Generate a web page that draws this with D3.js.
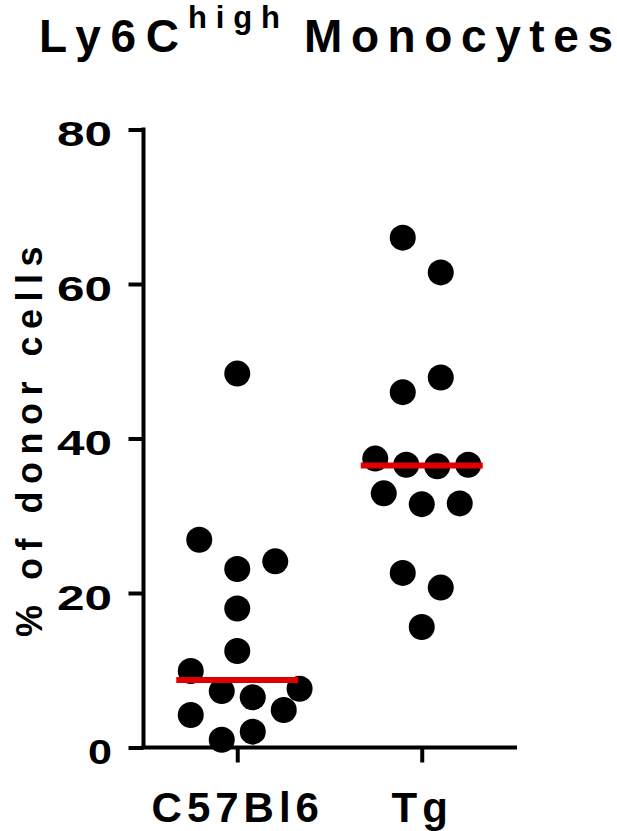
<!DOCTYPE html>
<html>
<head>
<meta charset="utf-8">
<script src="https://cdn.jsdelivr.net/npm/d3@7"></script>
<style>
  body { margin: 0; background: #fff; }
  text { font-family: "Liberation Sans", Arial, sans-serif; font-weight: bold; fill: #000; }
</style>
</head>
<body>
<svg id="chart" width="617" height="831"></svg>
<script>
// values, listed row by row, left to right
var groups = ["C57Bl6", "Tg"];
var c57Values = [48.4, 26.9, 23.1, 24.1, 18.0, 12.5, 9.9, 7.3, 6.5, 7.6, 4.2, 1.0, 2.05, 4.85];
var tgValues = [66.0, 61.5, 46.0, 47.9, 37.4, 36.6, 36.4, 36.6, 32.9, 31.5, 31.6, 22.6, 20.7, 15.6];
var yTicks = [0, 20, 40, 60, 80];

var series = [
  { name: groups[0], values: c57Values },
  { name: groups[1], values: tgValues }
];

var svg = d3.select("#chart"),
    axisX = 143.5,
    axisY = 747.5,
    dotR = 13,
    halfMedian = 61;

var y = d3.scaleLinear().domain([0, 80]).range([axisY, 129.5]);
var x = d3.scalePoint().domain(groups).range([145, 514]).padding(0.5);

// Prism-like scatter: bin values into rows, spread each row, then
// nudge dots outward when they hit a dot of a lower row
var binStart = 0.8, binSize = 5.5, maxStep = 38, rowWidth = 93, minDist = 26.5;

function swarm(values) {
  var pts = values.map(function (v, i) { return { v: v, i: i, y: y(v), dx: 0 }; });
  var bins = d3.groups(pts, function (d) { return Math.floor((d.v - binStart) / binSize); })
      .sort(function (a, b) { return a[0] - b[0]; });
  var placed = [];
  bins.forEach(function (bin) {
    var row = bin[1], n = row.length;
    var step = n > 1 ? Math.min(maxStep, rowWidth / (n - 1)) : 0;
    row.forEach(function (p, j) {
      p.dx = (j - (n - 1) / 2) * step;
      var dir = p.dx < 0 ? -1 : 1, moved = true;
      while (moved) {
        moved = false;
        placed.forEach(function (q) {
          var dy = Math.abs(p.y - q.y);
          if (dy >= minDist) return;
          var need = Math.sqrt(minDist * minDist - dy * dy);
          if (Math.abs(p.dx - q.dx) < need - 0.01) {
            p.dx = q.dx + dir * need;
            moved = true;
          }
        });
      }
    });
    placed = placed.concat(row);
  });
  return pts;
}

// axes
var yAxis = d3.axisLeft(y).tickValues(yTicks).tickSize(15).tickSizeOuter(0).tickPadding(16.5);
var xAxis = d3.axisBottom(x).tickSize(15).tickSizeOuter(0).tickPadding(30);

var gy = svg.append("g").attr("transform", "translate(" + axisX + ",0)").call(yAxis);
var gx = svg.append("g").attr("transform", "translate(0," + axisY + ")").call(xAxis);

[gy, gx].forEach(function (g) {
  g.selectAll(".domain, .tick line").attr("stroke", "#000").attr("stroke-width", 4);
});
gy.select(".domain").attr("d", "M0," + (y(80) - 2) + "V" + axisY);
gx.select(".domain").attr("d", "M" + (axisX - 2) + ",0H517");

gy.selectAll(".tick text")
    .attr("font-size", 35)
    .attr("dy", "0.46em")
    .attr("fill", "#000")
    .attr("textLength", function (d) { return 31 * String(d).length - 7; })
    .attr("lengthAdjust", "spacingAndGlyphs");

gx.selectAll(".tick text")
    .attr("font-size", 42)
    .attr("fill", "#000")
    .style("letter-spacing", "5px");

// dots
series.forEach(function (s) {
  var cx = x(s.name);
  var g = svg.append("g").attr("class", "group");
  g.selectAll("circle")
      .data(swarm(s.values))
      .enter()
      .append("circle")
      .attr("cx", function (d) { return cx + d.dx; })
      .attr("cy", function (d) { return d.y; })
      .attr("r", dotR)
      .attr("fill", "#000");

  var med = d3.median(s.values);
  g.append("line")
      .attr("x1", cx - halfMedian)
      .attr("x2", cx + halfMedian)
      .attr("y1", y(med))
      .attr("y2", y(med))
      .attr("stroke", "#e00000")
      .attr("stroke-width", 6);
});

// title
var title = svg.append("text")
    .attr("x", 39)
    .attr("y", 52)
    .attr("font-size", 46);
title.append("tspan")
    .attr("textLength", 140)
    .attr("lengthAdjust", "spacing")
    .text("Ly6C");
title.append("tspan")
    .attr("x", 188)
    .attr("font-size", 31)
    .attr("dy", -24)
    .attr("textLength", 92)
    .attr("lengthAdjust", "spacing")
    .text("high");
title.append("tspan")
    .attr("x", 304)
    .attr("dy", 24)
    .attr("textLength", 309)
    .attr("lengthAdjust", "spacing")
    .text("Monocytes");

// y axis label
svg.append("text")
    .attr("transform", "translate(42,438) rotate(-90)")
    .attr("text-anchor", "middle")
    .attr("font-size", 36)
    .style("letter-spacing", "7.5px")
    .text("% of donor cells");
</script>
</body>
</html>
